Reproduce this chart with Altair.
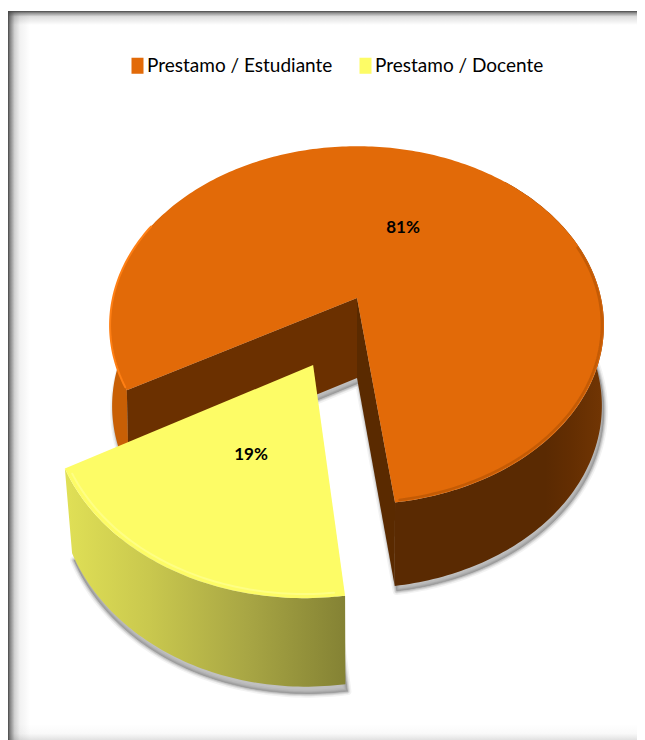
import math
import altair as alt
import pandas as pd

categories = ["Prestamo / Estudiante", "Prestamo / Docente"]
shares = [81, 19]
top_colors = ["#E26A08", "#FDFC66"]
label_texts = ["81%", "19%"]

W, H = 629, 732
CX, CY = 357, 298          # pie axis on screen
RX, RY, PERSP = 244, 175, 0.153
RX_B, RY_B = 242, 178
DEPTH = 80
START = 172.4              # degrees clockwise from the back of the pie
EXPLODE = 0.393
FONT = "Lato"

x_scale = alt.Scale(domain=[8, 8 + W], range=[0, W], nice=False, zero=False)
y_scale = alt.Scale(domain=[8, 8 + H], range=[0, H], nice=False, zero=False)
X = alt.X("x:Q", scale=x_scale, axis=None)
Y = alt.Y("y:Q", scale=y_scale, axis=None)


def proj(deg, r=1.0, ox=0.0, oy=0.0, bottom=False, dx=0.0, dy=0.0, rb=RX_B, ryb=RY_B):
    a = math.radians(deg)
    u, v = ox + r * math.sin(a), oy + r * math.cos(a)
    w = 1 + PERSP * v
    if bottom:
        return (CX + dx + rb * u / w, CY + dy + DEPTH - ryb * v / w)
    return (CX + dx + RX * u / w, CY + dy - RY * v / w)


def arc(a0, a1, **kw):
    n = max(2, int(abs(a1 - a0)))
    return [proj(a0 + (a1 - a0) * i / n, **kw) for i in range(n + 1)]


def frame(points, **extra):
    return pd.DataFrame(
        [{"x": p[0], "y": p[1], "i": i, **extra} for i, p in enumerate(points)]
    )


def poly(points, **mark):
    pts = list(points) + [points[0]]
    return alt.Chart(frame(pts)).mark_line(strokeCap="round", strokeJoin="round", **mark).encode(
        x=X, y=Y, order="i:Q"
    )


def stroke(points, color, width, opacity=1.0):
    return alt.Chart(frame(points)).mark_line(
        stroke=color, strokeWidth=width, opacity=opacity, strokeCap="round"
    ).encode(x=X, y=Y, order="i:Q")


def grad(stops, horizontal=True):
    return alt.LinearGradient(
        gradient="linear",
        x1=0, y1=0,
        x2=1 if horizontal else 0,
        y2=0 if horizontal else 1,
        stops=[alt.GradientStop(color=c, offset=o) for o, c in stops],
    )


def band(x0, x1, y0, y1, stops, horizontal):
    d = pd.DataFrame([{"x": x0, "x2": x1, "y": y0, "y2": y1}])
    return alt.Chart(d).mark_rect(fill=grad(stops, horizontal)).encode(
        x=X, x2="x2:Q", y=Y, y2="y2:Q"
    )


gap = shares[1] / sum(shares) * 360
a_main0 = START + gap           # where the orange sector begins
a_main1 = START + 360           # where it ends
mid = START + gap / 2
ox = EXPLODE * math.sin(math.radians(mid))
oy = EXPLODE * math.cos(math.radians(mid))

layers = []

# sheet frame
G = "70,70,70"
layers += [
    band(8, 637, 11, 25, [(0, f"rgba({G},1)"), (0.14, f"rgba({G},0.6)"), (0.4, f"rgba({G},0.18)"), (1, f"rgba({G},0)")], False),
    band(8, 637, 724, 740, [(0, f"rgba({G},0)"), (0.6, f"rgba({G},0.03)"), (1, f"rgba({G},0.16)")], False),
    band(8, 30, 11, 740, [(0, f"rgba({G},1)"), (0.08, f"rgba({G},0.7)"), (0.3, f"rgba({G},0.25)"), (0.55, f"rgba({G},0.07)"), (1, f"rgba({G},0)")], True),
]


# soft shadows
def shadow(points, sx, sy):
    moved = [(p[0] + sx, p[1] + sy) for p in points]
    out = []
    for w, o in [(8, 0.1), (5, 0.18), (3, 0.25), (1, 0.35)]:
        out.append(poly(moved, fill="#808080", fillOpacity=o * 0.7, stroke="#808080", strokeWidth=w, strokeOpacity=o))
    return out


main_sil = arc(a_main0, a_main1, bottom=True) + [proj(0, r=0, bottom=True)]
layers += shadow(main_sil, 2, 5)

# orange outer and cut walls
layers.append(poly(arc(a_main0, a_main0 + 60) + arc(a_main0 + 60, a_main0, bottom=True), fill="#C85F05", strokeWidth=0))
layers.append(poly(
    arc(a_main1, a_main1 - 130) + arc(a_main1 - 130, a_main1, bottom=True),
    fill=grad([(0, "#5A2A02"), (0.72, "#5A2A02"), (0.85, "#642E02"), (1, "#723604")]),
    strokeWidth=0,
))
layers.append(poly(
    [proj(0, r=0), proj(a_main0), proj(a_main0, bottom=True), proj(0, r=0, bottom=True)],
    fill="#6B3000", strokeWidth=0,
))
layers.append(poly(
    [proj(0, r=0), proj(a_main1), proj(a_main1, bottom=True), proj(0, r=0, bottom=True)],
    fill="#5A2A00", strokeWidth=0,
))

# orange top
top_main = arc(a_main0, a_main1) + [proj(0, r=0)]
top_main_closed = top_main + [top_main[0]]
fill_enc = alt.Fill(
    "cat:N",
    scale=alt.Scale(domain=categories, range=top_colors),
    legend=alt.Legend(
        orient="none", legendX=120, legendY=48, direction="horizontal", title=None,
        labelFont=FONT, labelFontSize=19, labelColor="#000000", labelLimit=300,
        symbolType="M-0.667,-0.89H0.667V0.89H-0.667Z", symbolSize=324, symbolStrokeWidth=0,
        symbolOpacity=1, labelOffset=0, columnPadding=23, padding=0,
    ),
)
layers.append(
    alt.Chart(frame(top_main_closed, cat=categories[0])).mark_line(strokeWidth=0).encode(
        x=X, y=Y, order="i:Q", fill=fill_enc
    )
)
layers.append(stroke(arc(a_main0 + 1, a_main0 + 55), "#FF7F14", 2))
layers.append(stroke(arc(a_main1 - 100, a_main1 - 1, r=0.992), "#B45305", 2.5, 0.65))

# yellow piece
YK = dict(ox=ox, oy=oy, dx=1.5, dy=2)
YB = dict(bottom=True, rb=238, ryb=180)
ytop_arc = arc(START, START + gap, **YK)
ybot_arc = arc(START, START + gap, **YK, **YB)
layers += shadow(ybot_arc + [proj(0, r=0, **YK, **YB)], 2, 7)
layers.append(poly(
    ytop_arc + ybot_arc[::-1],
    fill=grad([(0, "#E0E056"), (0.3, "#C9C84E"), (0.65, "#A8A644"), (1, "#848234")]),
    strokeWidth=0,
))
layers.append(
    alt.Chart(frame(ytop_arc + [proj(0, r=0, **YK), ytop_arc[0]], cat=categories[1])).mark_line(strokeWidth=0).encode(
        x=X, y=Y, order="i:Q", fill=fill_enc
    )
)
layers.append(stroke(arc(START + 2, START + gap - 2, r=0.985, **YK), "#FFFF9C", 2, 0.55))

# value labels
labels = pd.DataFrame({"x": [403, 251], "y": [228, 455], "t": label_texts})
layers.append(
    alt.Chart(labels).mark_text(font=FONT, fontSize=17, fontWeight="bold", color="#000000").encode(
        x=X, y=Y, text="t:N"
    )
)

chart = (
    alt.layer(*layers)
    .resolve_scale(fill="shared")
    .properties(width=W, height=H, padding=0, autosize=alt.AutoSizeParams(type="none"))
    .configure_view(stroke=None)
)
chart.save("out.html", embed_options={"renderer": "svg", "actions": False})
